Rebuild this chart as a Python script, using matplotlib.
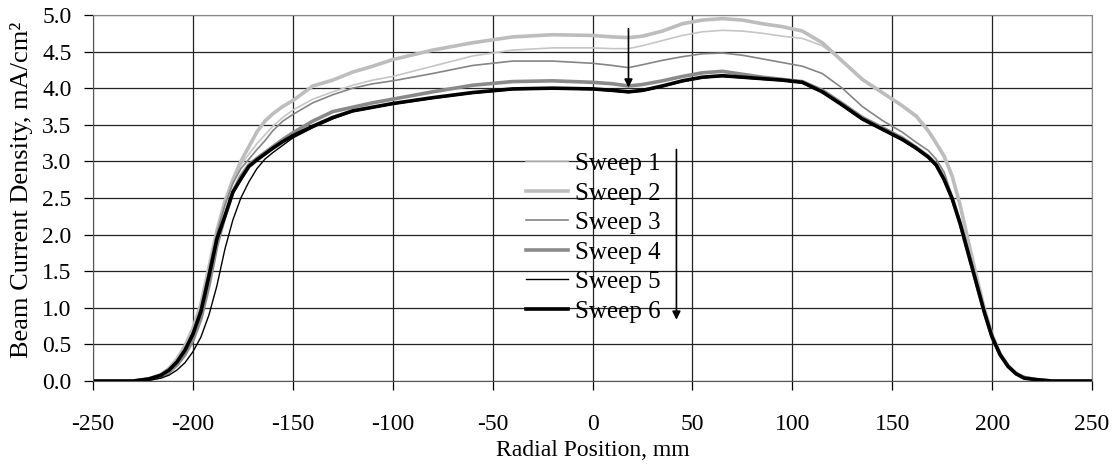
import matplotlib
matplotlib.use("Agg")
import matplotlib.pyplot as plt

plt.rcParams['font.family'] = ['Liberation Serif', 'DejaVu Serif']
plt.rcParams['axes.unicode_minus'] = False
plt.rcParams['xtick.major.pad'] = 17
plt.rcParams['ytick.major.pad'] = 9

# radial positions (mm) shared by all sweeps
pos = [-250, -230, -222, -216, -212, -208, -204, -200, -196, -192, -188, -184, -180, -176, -172,
       -168, -164, -160, -155, -150, -140, -130, -120, -110, -100, -80, -60, -40, -20, 0,
       10, 18, 25, 35, 45, 55, 65, 75, 85, 95, 105, 115, 125, 135, 145, 155,
       162, 168, 172, 176, 180, 184, 188, 192, 196, 200, 204, 208, 212, 216, 222, 230, 250]

sweep1 = [0, 0, 0.03, 0.08, 0.16, 0.28, 0.45, 0.70, 1.02, 1.52, 2.05, 2.45, 2.74, 2.95, 3.10,
          3.24, 3.36, 3.48, 3.60, 3.70, 3.85, 3.95, 4.04, 4.11, 4.16, 4.30, 4.44, 4.52, 4.55, 4.55,
          4.54, 4.54, 4.58, 4.65, 4.72, 4.77, 4.79, 4.78, 4.75, 4.71, 4.68, 4.58, 4.38, 4.13, 3.94, 3.75,
          3.60, 3.40, 3.23, 3.05, 2.78, 2.38, 1.90, 1.44, 0.99, 0.62, 0.37, 0.21, 0.10, 0.05, 0.02, 0, 0]

sweep2 = [0, 0, 0.03, 0.09, 0.17, 0.30, 0.48, 0.72, 1.05, 1.55, 2.05, 2.45, 2.75, 3.00, 3.20,
          3.40, 3.55, 3.65, 3.75, 3.83, 4.03, 4.11, 4.22, 4.30, 4.39, 4.52, 4.62, 4.70, 4.73, 4.72,
          4.70, 4.69, 4.71, 4.78, 4.88, 4.93, 4.95, 4.93, 4.88, 4.84, 4.78, 4.62, 4.37, 4.12, 3.94, 3.76,
          3.62, 3.42, 3.25, 3.07, 2.80, 2.40, 1.92, 1.45, 1.00, 0.63, 0.37, 0.21, 0.10, 0.05, 0.02, 0, 0]

sweep3 = [0, 0, 0.03, 0.08, 0.15, 0.27, 0.44, 0.67, 1.00, 1.50, 2.02, 2.40, 2.70, 2.90, 3.03,
          3.16, 3.28, 3.42, 3.55, 3.64, 3.80, 3.91, 4.00, 4.06, 4.10, 4.20, 4.31, 4.37, 4.37, 4.34,
          4.31, 4.28, 4.32, 4.38, 4.43, 4.47, 4.48, 4.45, 4.40, 4.35, 4.30, 4.20, 4.00, 3.75, 3.56, 3.40,
          3.26, 3.15, 3.03, 2.85, 2.52, 2.16, 1.76, 1.36, 0.96, 0.61, 0.36, 0.20, 0.10, 0.05, 0.02, 0, 0]

sweep4 = [0, 0, 0.02, 0.06, 0.12, 0.22, 0.36, 0.56, 0.85, 1.30, 1.85, 2.25, 2.58, 2.80, 2.95,
          3.04, 3.12, 3.20, 3.30, 3.39, 3.55, 3.68, 3.74, 3.80, 3.85, 3.95, 4.04, 4.09, 4.10, 4.08,
          4.06, 4.03, 4.05, 4.10, 4.16, 4.21, 4.23, 4.19, 4.15, 4.12, 4.09, 3.97, 3.79, 3.60, 3.46, 3.32,
          3.19, 3.07, 2.96, 2.76, 2.50, 2.15, 1.75, 1.35, 0.95, 0.60, 0.36, 0.20, 0.10, 0.05, 0.02, 0, 0]

sweep5 = [0, 0, 0.01, 0.04, 0.08, 0.15, 0.25, 0.40, 0.60, 0.90, 1.30, 1.80, 2.20, 2.50, 2.72,
          2.90, 3.03, 3.12, 3.22, 3.32, 3.46, 3.58, 3.68, 3.73, 3.78, 3.86, 3.93, 3.98, 3.99, 3.98,
          3.96, 3.94, 3.96, 4.02, 4.09, 4.14, 4.16, 4.14, 4.12, 4.10, 4.07, 3.94, 3.76, 3.57, 3.43, 3.29,
          3.17, 3.05, 2.94, 2.74, 2.48, 2.14, 1.74, 1.34, 0.95, 0.60, 0.36, 0.20, 0.10, 0.05, 0.02, 0, 0]

sweep6 = [0, 0, 0.03, 0.08, 0.15, 0.26, 0.42, 0.64, 0.95, 1.43, 1.94, 2.25, 2.58, 2.76, 2.93,
          3.02, 3.10, 3.18, 3.27, 3.35, 3.48, 3.60, 3.69, 3.74, 3.79, 3.87, 3.94, 3.99, 4.00, 3.99,
          3.97, 3.95, 3.97, 4.03, 4.10, 4.15, 4.17, 4.15, 4.13, 4.11, 4.08, 3.95, 3.77, 3.58, 3.44, 3.30,
          3.18, 3.06, 2.95, 2.75, 2.49, 2.15, 1.75, 1.35, 0.95, 0.60, 0.36, 0.20, 0.10, 0.04, 0.02, 0, 0]

labels = ["Sweep 1", "Sweep 2", "Sweep 3", "Sweep 4", "Sweep 5", "Sweep 6"]
series = [sweep1, sweep2, sweep3, sweep4, sweep5, sweep6]
colors = ['#c6c6c6', '#bdbdbd', '#858585', '#8a8a8a', '#000000', '#000000']
widths = [1.2, 2.6, 1.2, 2.6, 1.0, 2.6]

fig = plt.figure(figsize=(11.15, 4.67), dpi=100)
ax = fig.add_axes([0.0834, 0.184, 0.896, 0.784])

for lab, ys, c, w in zip(labels, series, colors, widths):
    ax.plot(pos, ys, color=c, lw=w, label=lab)

ax.set_xlim(-250, 250)
ax.set_ylim(0, 5)
ax.set_xticks(range(-250, 251, 50))
ax.set_yticks([i * 0.5 for i in range(11)])
ax.set_yticklabels([f"{i * 0.5:.1f}" for i in range(11)])
ax.grid(True, color='#222222', lw=0.9)
ax.set_axisbelow(True)
ax.tick_params(direction='out', length=6.5, width=0.9, labelsize=17)
for s in ['top', 'right']:
    ax.spines[s].set_color('#888888')
for s in ['left', 'bottom']:
    ax.spines[s].set_color('#555555')

ax.set_xlabel("Radial Position, mm", fontsize=17, labelpad=4)
ax.set_ylabel("Beam Current Density, mA/cm²", fontsize=19)
ax.yaxis.set_label_coords(-0.060, 0.522)

ax.annotate("", xy=(18, 3.97), xytext=(18, 4.85),
            arrowprops=dict(arrowstyle='-|>', color='black', lw=1.2, mutation_scale=12))
ax.annotate("", xy=(42, 0.8), xytext=(42, 3.2),
            arrowprops=dict(arrowstyle='-|>', color='black', lw=1.2, mutation_scale=12))

ax.legend(loc='upper left', bbox_to_anchor=(0.421, 0.658), frameon=False, fontsize=18,
          handlelength=1.68, handletextpad=0.28, labelspacing=0.28, borderpad=0)

fig.savefig("out.png", dpi=100)
